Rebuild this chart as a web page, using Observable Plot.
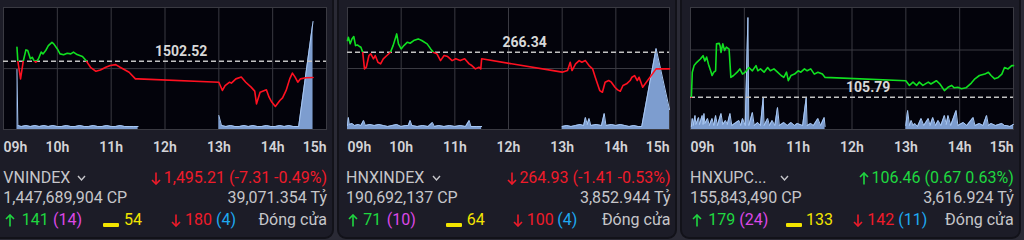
<!DOCTYPE html>
<html><head><meta charset="utf-8">
<script src="https://cdn.jsdelivr.net/npm/d3@7"></script>
<script src="https://cdn.jsdelivr.net/npm/@observablehq/plot@0.6"></script>
<style>
html,body{margin:0;padding:0;background:#2a2a35;width:1024px;height:240px;overflow:hidden;font-family:Roboto,"Noto Sans",sans-serif;}
#root{position:relative;width:1024px;height:240px;}
.card{position:absolute;background:#1c1c27;border:2px solid #121219;border-radius:9px;box-sizing:border-box;}
.t{position:absolute;font-size:16px;line-height:20px;white-space:nowrap;}
</style></head><body>
<div id="root"></div>
<script>
// ---------- DATA ----------
const tickHours = [9, 10, 11, 12, 13, 14, 15];
const indexNames = ["VNINDEX", "HNXINDEX", "HNXUPC..."];
const refValues = [1502.52, 266.34, 105.79];
const closeValues = ["1,495.21", "264.93", "106.46"];
const changeValues = ["-7.31", "-1.41", "0.67"];
const changePercents = ["-0.49%", "-0.53%", "0.63%"];
const volumeTotals = ["1,447,689,904 CP", "190,692,137 CP", "155,843,490 CP"];
const valueTotals = ["39,071.354 Tỷ", "3,852.944 Tỷ", "3,616.924 Tỷ"];
const advancers = [141, 71, 179];
const ceilings = [14, 10, 24];
const unchanged = [54, 64, 133];
const decliners = [180, 100, 142];
const floors = [4, 4, 11];
const statusLabel = "Đóng cửa";

const vnPrice = [["09:15",1508.8],["09:16",1502.5],["09:19",1494.6],["09:22",1502.5],["09:25",1507.6],["09:27",1507.3],["09:30",1503.6],["09:32",1504.3],["09:34",1502.8],["09:36",1502.1],["09:39",1503.6],["09:42",1506.6],["09:44",1505.8],["09:47",1507.3],["09:50",1509.5],["09:54",1511.0],["09:56",1510.3],["10:00",1508.0],["10:03",1505.8],["10:07",1505.4],["10:11",1506.1],["10:15",1505.8],["10:18",1506.6],["10:22",1505.5],["10:28",1504.6],["10:32",1502.8],["10:37",1499.8],["10:43",1498.0],["10:48",1498.6],["10:54",1499.8],["10:59",1500.6],["11:05",1501.0],["11:10",1499.8],["11:20",1497.6],["11:27",1494.6],["11:30",1494.6],["13:00",1493.1],["13:04",1489.4],["13:07",1491.6],["13:12",1493.1],["13:14",1492.7],["13:19",1494.6],["13:25",1495.4],["13:30",1493.1],["13:36",1490.9],["13:40",1489.1],["13:42",1483.4],["13:46",1488.6],["13:53",1489.7],["13:56",1486.4],["13:59",1484.2],["14:03",1482.2],["14:08",1484.9],["14:11",1486.1],["14:15",1489.4],["14:19",1494.6],["14:22",1497.2],["14:25",1495.4],["14:28",1493.1],["14:31",1494.6],["14:37",1495.1],["14:45",1495.21]];
const hnxPrice = [["09:00",267.33],["09:01",267.61],["09:03",267.05],["09:05",267.47],["09:07",267.67],["09:09",266.90],["09:11",266.95],["09:13",266.85],["09:15",266.76],["09:17",266.34],["09:19",264.93],["09:21",265.07],["09:24",266.06],["09:26",266.20],["09:29",265.78],["09:31",266.06],["09:34",265.49],["09:37",265.35],["09:40",265.78],["09:44",266.06],["09:48",266.34],["09:51",266.90],["09:55",267.89],["09:57",267.05],["10:00",266.62],["10:03",266.90],["10:07",267.19],["10:10",267.10],["10:14",267.33],["10:19",267.47],["10:23",267.33],["10:29",267.05],["10:33",266.62],["10:36",266.34],["10:40",266.20],["10:44",265.63],["10:48",266.06],["10:52",265.97],["10:57",265.63],["11:01",265.78],["11:06",265.63],["11:11",265.78],["11:16",265.35],["11:19",265.21],["11:23",264.93],["11:27",265.07],["11:29",264.93],["11:30",265.78],["13:00",264.65],["13:06",264.79],["13:09",265.49],["13:11",264.79],["13:15",265.35],["13:19",265.63],["13:22",265.49],["13:26",265.63],["13:30",265.21],["13:34",264.93],["13:37",264.22],["13:42",263.09],["13:45",262.95],["13:48",263.80],["13:52",263.94],["13:55",263.80],["13:59",263.37],["14:02",263.15],["14:05",263.03],["14:08",263.52],["14:12",263.66],["14:16",263.94],["14:18",264.22],["14:21",264.36],["14:24",263.94],["14:26",264.22],["14:30",263.37],["14:45",264.93],["15:00",264.93]];
const upPrice = [["09:01",105.79],["09:02",106.32],["09:04",106.46],["09:07",106.53],["09:11",106.60],["09:14",106.67],["09:16",106.56],["09:18",106.64],["09:20",106.49],["09:23",106.32],["09:24",106.25],["09:26",106.32],["09:28",106.35],["09:29",106.92],["09:32",106.93],["09:33",106.88],["09:34",106.74],["09:36",106.92],["09:38",106.78],["09:40",106.85],["09:43",106.81],["09:45",106.21],["09:48",106.25],["09:52",106.32],["09:55",106.39],["09:58",106.28],["10:01",106.32],["10:05",106.42],["10:09",106.35],["10:13",106.46],["10:15",106.35],["10:18",106.39],["10:22",106.32],["10:26",106.42],["10:29",106.35],["10:33",106.39],["10:37",106.32],["10:41",106.25],["10:44",106.21],["10:47",106.32],["10:49",106.14],["10:52",106.25],["10:56",106.28],["11:00",106.35],["11:03",106.32],["11:07",106.39],["11:10",106.35],["11:14",106.39],["11:18",106.28],["11:22",106.32],["11:27",106.28],["11:30",106.21],["13:00",106.14],["13:04",106.04],["13:08",106.11],["13:12",106.04],["13:15",106.11],["13:19",106.04],["13:25",106.11],["13:28",106.07],["13:34",106.14],["13:38",106.07],["13:43",105.93],["13:47",106.00],["13:51",106.04],["13:54",105.99],["13:58",106.00],["14:02",105.97],["14:07",105.99],["14:13",106.09],["14:17",106.18],["14:22",106.25],["14:28",106.28],["14:32",106.32],["14:35",106.25],["14:39",106.18],["14:43",106.21],["14:47",106.28],["14:50",106.42],["14:54",106.39],["14:58",106.46],["15:00",106.46]];

// volume per minute, million shares
const vnVol = [["09:15",60],["09:16",4],["09:20",3],["09:25",4],["09:30",3],["09:35",4],["09:40",3],["09:45",4],["09:50",3],["09:55",4],["10:00",3],["10:05",3],["10:10",4],["10:15",3],["10:20",3],["10:25",4],["10:30",3],["10:35",3],["10:40",4],["10:45",3],["10:50",3],["10:55",4],["11:00",3],["11:05",3],["11:10",4],["11:15",3],["11:20",3],["11:25",3],["11:30",3],["13:00",14],["13:03",4],["13:08",3],["13:13",4],["13:18",3],["13:23",3],["13:28",4],["13:33",3],["13:38",4],["13:43",3],["13:48",3],["13:53",4],["13:58",3],["14:03",3],["14:08",4],["14:13",3],["14:18",4],["14:23",3],["14:29",3],["14:45",108]];
const hnxVol = [["09:00",4],["09:01",12],["09:02",5],["09:05",6],["09:08",4],["09:12",5],["09:15",4],["09:18",9],["09:20",4],["09:25",5],["09:30",4],["09:35",5],["09:40",4],["09:45",3],["09:50",4],["09:55",5],["10:00",3],["10:05",4],["10:08",4],["10:10",9],["10:12",4],["10:18",3],["10:24",4],["10:30",3],["10:35",7],["10:37",3],["10:42",4],["10:48",3],["10:54",4],["11:00",3],["11:06",4],["11:12",3],["11:16",9],["11:18",3],["11:24",3],["11:30",3],["13:00",3],["13:05",4],["13:10",3],["13:15",4],["13:20",5],["13:24",4],["13:26",12],["13:28",5],["13:30",11],["13:32",4],["13:38",5],["13:44",4],["13:47",16],["13:49",4],["13:55",5],["14:00",4],["14:05",5],["14:10",4],["14:15",3],["14:20",4],["14:25",3],["14:29",3],["14:45",81],["15:00",20]];
const upVol = [["09:01",3],["09:02",11],["09:03",4],["09:05",14],["09:06",5],["09:09",12],["09:10",5],["09:13",14],["09:14",5],["09:15",16],["09:16",6],["09:19",11],["09:21",4],["09:24",11],["09:26",4],["09:28",14],["09:30",4],["09:34",16],["09:36",5],["09:39",9],["09:41",5],["09:44",16],["09:46",4],["09:54",9],["09:56",4],["09:58",11],["10:01",4],["10:04",112],["10:05",4],["10:09",17],["10:11",4],["10:15",7],["10:18",4],["10:21",32],["10:22",4],["10:26",11],["10:28",4],["10:31",9],["10:34",4],["10:37",22],["10:39",4],["10:44",7],["10:48",4],["10:52",7],["10:56",4],["10:59",6],["11:05",4],["11:09",32],["11:10",4],["11:14",6],["11:17",4],["11:22",11],["11:25",4],["11:29",12],["11:30",3],["13:00",4],["13:02",19],["13:04",4],["13:06",9],["13:08",4],["13:10",6],["13:13",3],["13:17",11],["13:20",4],["13:25",11],["13:27",4],["13:30",12],["13:33",4],["13:36",9],["13:39",4],["13:43",14],["13:45",5],["13:47",14],["13:50",4],["13:56",19],["13:58",4],["14:04",7],["14:08",4],["14:15",12],["14:17",4],["14:22",6],["14:26",4],["14:30",14],["14:32",4],["14:35",6],["14:40",4],["14:47",6],["14:50",4],["14:52",4],["14:56",3],["15:00",5]];

const priceSeries = [vnPrice, hnxPrice, upPrice];
const volumeSeries = [vnVol, hnxVol, upVol];
const yDomains = [[1471.9, 1526.6], [259.79, 270.13], [105.107, 107.69]];
const gridValues = [[1499.2], [264.96], [105.97, 106.79]];

// ---------- LAYOUT ----------
const layouts = [
  {left: 0, width: 333, ml: 3, mr: 7, textL: 3.3, textR: 327, chev: 77,
   r3: {up: 5, adv: 21.7, ceil: 53, bar: 103, unch: 124, down: 170.7, dec: 185, floor: 216}},
  {left: 340, width: 335, ml: 7, mr: 6, textL: 346, textR: 670.5, chev: 432,
   r3: {up: 348.3, adv: 363.3, ceil: 386.7, bar: 446, unch: 466.7, down: 513.3, dec: 526.7, floor: 557.3}},
  {left: 683, width: 336, ml: 7, mr: 6, textL: 690, textR: 1013.7, chev: 780,
   r3: {up: 691.7, adv: 708.3, ceil: 739.3, bar: 786, unch: 806, down: 852.7, dec: 867.3, floor: 898.3}}
];
const cards = [{l: -9, w: 343}, {l: 337, w: 340}, {l: 680, w: 341}];
const C = {text: "#c6c6ca", red: "#ef1b2a", green: "#1fd840", magenta: "#dc48e6", cyan: "#1eaaf2", yellow: "#f2e400",
  lineUp: "#10e020", lineDown: "#ff1020", grid: "#3a3a42", plotBg: "#03030b", volFill: "#7d9dcf", volStroke: "#a8c8f4"};
const rowCY = [177.7, 198.3, 219.5];
const refLabelHour = 12.3;

const toHours = s => { const [h, m] = s.split(":").map(Number); return h + m / 60; };
const fmtHour = h => String(h).padStart(2, "0") + "h";
const root = document.getElementById("root");

for (const c of cards) {
  const d = document.createElement("div");
  d.className = "card";
  Object.assign(d.style, {left: c.l + "px", top: "-9px", width: c.w + "px", height: "248px"});
  root.appendChild(d);
}

function place(svg, L) {
  Object.assign(svg.style, {position: "absolute", left: L.left + "px", top: "0px", maxWidth: "none"});
  root.appendChild(svg);
}

// arrow icon (up / down) as a small svg
function arrowIcon(up, color) {
  const s = d3.create("svg").attr("width", 10).attr("height", 13).attr("viewBox", "0 0 10 13");
  const head = up ? "1,5 5,1 9,5" : "1,8 5,12 9,8";
  s.append("line").attr("x1", 5).attr("x2", 5).attr("y1", up ? 1.2 : 0.5).attr("y2", up ? 12.5 : 11.8)
    .attr("stroke", color).attr("stroke-width", 1.6);
  s.append("polyline").attr("points", head).attr("fill", "none").attr("stroke", color)
    .attr("stroke-width", 1.6).attr("stroke-linejoin", "miter");
  return s.node();
}

function label(text, o) {
  const d = document.createElement("div");
  d.className = "t";
  d.textContent = text;
  d.style.top = (o.cy - 10) + "px";
  if (o.right != null) d.style.right = (1024 - o.right) + "px"; else d.style.left = o.x + "px";
  d.style.color = o.color || C.text;
  root.appendChild(d);
  return d;
}

function arrowAt(up, color, x, cy) {
  const a = arrowIcon(up, color);
  Object.assign(a.style, {position: "absolute", left: x + "px", top: (cy - 5.7) + "px"});
  root.appendChild(a);
}

function buildPanel(i) {
  const L = layouts[i];
  const H = 160;
  const priceData = priceSeries[i].map(([t, v]) => ({x: toHours(t), y: v}));
  const volData = volumeSeries[i].map(([t, v]) => ({x: toHours(t), v, s: toHours(t) < 12 ? "am" : "pm"}));
  const common = {width: L.width, height: H, marginLeft: L.ml, marginRight: L.mr, marginTop: 7, marginBottom: 31,
    x: {domain: [9, 15], axis: null},
    style: {background: "transparent", fontFamily: "Roboto, 'Noto Sans', sans-serif", overflow: "visible"}};
  const yPrice = {domain: yDomains[i], axis: null};
  const tickStyle = {text: fmtHour, frameAnchor: "bottom", dy: 22, fill: "#d4d4d8", fontSize: 14, fontWeight: 600};

  const base = Plot.plot({...common, y: yPrice, marks: [
    Plot.frame({fill: C.plotBg}),
    Plot.ruleX(tickHours.slice(1, -1), {stroke: C.grid}),
    Plot.ruleY(gridValues[i], {stroke: C.grid}),
    Plot.frame({stroke: C.grid}),
    Plot.text(tickHours.slice(0, 1), {x: d => d, textAnchor: "start", ...tickStyle}),
    Plot.text(tickHours.slice(1, -1), {x: d => d, textAnchor: "middle", ...tickStyle}),
    Plot.text(tickHours.slice(-1), {x: d => d, textAnchor: "end", ...tickStyle})
  ]});
  place(base, L);

  const vol = Plot.plot({...common, y: {domain: [0, 122], axis: null}, marks: [
    Plot.areaY(volData, {x: "x", y: "v", z: "s", fill: C.volFill}),
    Plot.lineY(volData, {x: "x", y: "v", z: "s", stroke: C.volStroke, strokeWidth: 1})
  ]});
  place(vol, L);

  const gid = "pgrad" + i;
  const top = Plot.plot({...common, y: yPrice, marks: [
    Plot.ruleY([refValues[i]], {stroke: "#c2c2c2", strokeWidth: 1.5, strokeDasharray: "5,3"}),
    Plot.line(priceData, {x: "x", y: "y", stroke: `url(#${gid})`, strokeWidth: 1.6}),
    Plot.text([refValues[i]], {x: () => refLabelHour, y: d => d, text: d => d.toFixed(2), dy: -10,
      fill: "#d8d8d8", fontSize: 14, fontWeight: "bold"})
  ]});
  let yRef;
  try { yRef = top.scale("y").apply(refValues[i]); }
  catch (e) { const [a, b] = yDomains[i]; yRef = 7 + (b - refValues[i]) / (b - a) * 122; }
  const grad = d3.select(top).insert("defs", ":first-child").append("linearGradient")
    .attr("id", gid).attr("gradientUnits", "userSpaceOnUse")
    .attr("x1", 0).attr("x2", 0).attr("y1", 0).attr("y2", H);
  grad.append("stop").attr("offset", yRef / H).attr("stop-color", C.lineUp);
  grad.append("stop").attr("offset", yRef / H).attr("stop-color", C.lineDown);
  place(top, L);

  // ----- info rows -----
  const chg = parseFloat(changeValues[i]);
  const up = chg >= 0;
  const col = up ? C.green : C.red;
  label(indexNames[i], {x: L.textL, cy: rowCY[0]});
  const chev = d3.select(root).append("svg").attr("width", 10).attr("height", 7)
    .style("position", "absolute").style("left", L.chev + "px").style("top", (rowCY[0] - 3) + "px");
  chev.append("polyline").attr("points", "1,1 4.5,5 8,1").attr("fill", "none")
    .attr("stroke", C.text).attr("stroke-width", 1.4);
  const v = label(`${closeValues[i]} (${changeValues[i]} ${changePercents[i]})`,
    {right: L.textR, cy: rowCY[0], color: col});
  const ai = arrowIcon(up, col);
  Object.assign(ai.style, {verticalAlign: "-2px", marginRight: "2.7px"});
  v.insertBefore(ai, v.firstChild);

  label(volumeTotals[i], {x: L.textL, cy: rowCY[1]});
  label(valueTotals[i], {right: L.textR, cy: rowCY[1]});

  const r = L.r3, cy = rowCY[2];
  arrowAt(true, C.green, r.up, cy);
  label(String(advancers[i]), {x: r.adv, cy, color: C.green});
  label(`(${ceilings[i]})`, {x: r.ceil, cy, color: C.magenta});
  const bar = document.createElement("div");
  Object.assign(bar.style, {position: "absolute", left: r.bar + "px", top: (cy + 3) + "px", width: "16px", height: "4px",
    background: C.yellow, borderRadius: "1px"});
  root.appendChild(bar);
  label(String(unchanged[i]), {x: r.unch, cy, color: C.yellow});
  arrowAt(false, C.red, r.down, cy);
  label(String(decliners[i]), {x: r.dec, cy, color: C.red});
  label(`(${floors[i]})`, {x: r.floor, cy, color: C.cyan});
  label(statusLabel, {right: L.textR, cy});
}

[0, 1, 2].forEach(buildPanel);
</script>
</body></html>
